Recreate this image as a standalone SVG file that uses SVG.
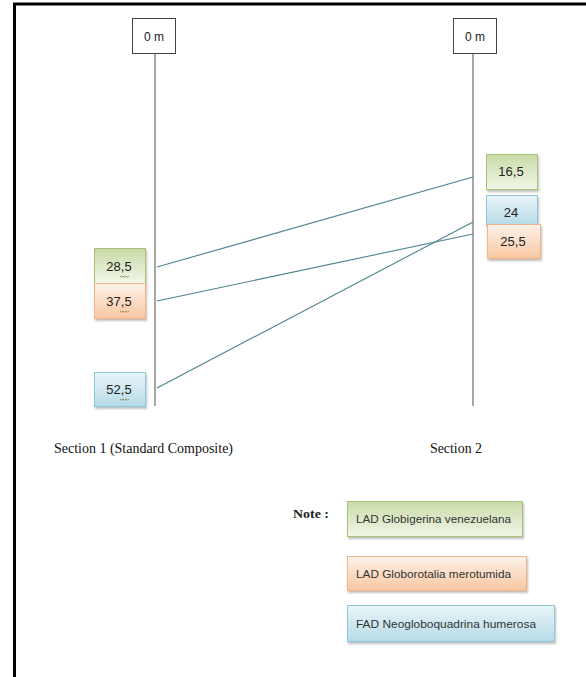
<svg xmlns="http://www.w3.org/2000/svg" width="586" height="677" viewBox="0 0 586 677">
<style>
.frame{stroke:#000;stroke-width:3;fill:none}
.zero{fill:#fff;stroke:#444;stroke-width:1}
.axis{stroke:#777;stroke-width:1.3}
.conn{stroke:#4f8190;stroke-width:1.1;fill:none}
.num{font-family:"Liberation Sans",Arial,sans-serif;font-size:13px;fill:#222;text-anchor:middle}
.sec{font-family:"Liberation Serif","Times New Roman",serif;font-size:14.5px;fill:#111}
.note{font-family:"Liberation Serif","Times New Roman",serif;font-size:13.5px;font-weight:bold;fill:#222}
.leg{font-family:"Liberation Sans",Arial,sans-serif;font-size:11px;fill:#333}
.g{fill:url(#gGreen);stroke:#a8c27a;stroke-width:1}
.o{fill:url(#gOrange);stroke:#f5b487;stroke-width:1}
.b{fill:url(#gBlue);stroke:#8fc8d8;stroke-width:1}
.sq{stroke:#7a6a3a;stroke-width:0.7;fill:none}
</style>
<defs>
<linearGradient id="gGreen" x1="0" y1="0" x2="0" y2="1"><stop offset="0" stop-color="#c9dba8"/><stop offset="1" stop-color="#f1f6e8"/></linearGradient>
<linearGradient id="gOrange" x1="0" y1="0" x2="0" y2="1"><stop offset="0" stop-color="#fdf2ea"/><stop offset="1" stop-color="#f9c7a0"/></linearGradient>
<linearGradient id="gBlue" x1="0" y1="0" x2="0" y2="1"><stop offset="0" stop-color="#eaf5f9"/><stop offset="1" stop-color="#b5dbe7"/></linearGradient>
<filter id="sh" x="-10%" y="-10%" width="130%" height="140%"><feDropShadow dx="1" dy="2" stdDeviation="1.2" flood-color="#000" flood-opacity="0.25"/></filter>
</defs>
<rect width="586" height="677" fill="#fff"/>
<path class="frame" d="M14.5 677 V4 H586"/>

<g id="connectors">
<line class="axis" x1="155" y1="53" x2="155" y2="406"/>
<line class="axis" x1="473" y1="53" x2="473" y2="406"/>
<line class="conn" x1="157" y1="267" x2="473" y2="177"/>
<line class="conn" x1="157" y1="301" x2="473" y2="234"/>
<line class="conn" x1="157" y1="388" x2="473" y2="222"/>
</g>

<g id="top-left"><rect class="zero" x="132.5" y="18.5" width="43" height="35"/><text class="num" x="154" y="41" style="font-size:12px">0 m</text></g>
<g id="top-right"><rect class="zero" x="453.5" y="18.5" width="43" height="35"/><text class="num" x="475" y="41" style="font-size:12px">0 m</text></g>

<g id="n28"><rect class="g" x="94.5" y="248.5" width="51" height="35" filter="url(#sh)"/><text class="num" x="119" y="271">28,5</text><path class="sq" d="M120 276 l1.5 1.2 1.5-1.2 1.5 1.2 1.5-1.2 1.5 1.2 1.5-1.2"/></g>
<g id="n37"><rect class="o" x="94.5" y="283.5" width="51" height="35" filter="url(#sh)"/><text class="num" x="119" y="306">37,5</text><path class="sq" d="M120 311 l1.5 1.2 1.5-1.2 1.5 1.2 1.5-1.2 1.5 1.2 1.5-1.2"/></g>
<g id="n52"><rect class="b" x="94.5" y="372.5" width="51" height="34" filter="url(#sh)"/><text class="num" x="119" y="394">52,5</text><path class="sq" d="M120 399 l1.5 1.2 1.5-1.2 1.5 1.2 1.5-1.2 1.5 1.2 1.5-1.2"/></g>

<g id="n16"><rect class="g" x="486.5" y="154.5" width="51" height="35" filter="url(#sh)"/><text class="num" x="511" y="176">16,5</text></g>
<g id="n24"><rect class="b" x="486.5" y="195.5" width="51" height="30" filter="url(#sh)"/><text class="num" x="511" y="217">24</text></g>
<g id="n25"><rect class="o" x="487.5" y="224.5" width="53" height="34" filter="url(#sh)"/><text class="num" x="513" y="246">25,5</text></g>

<text class="sec" x="54" y="453" textLength="179" lengthAdjust="spacingAndGlyphs">Section 1 (Standard Composite)</text>
<text class="sec" x="430" y="453" textLength="52" lengthAdjust="spacingAndGlyphs">Section 2</text>

<text class="note" x="293" y="518" textLength="36" lengthAdjust="spacingAndGlyphs">Note :</text>
<g id="leg1"><rect class="g" x="347.5" y="501.5" width="175" height="35" filter="url(#sh)"/><text class="leg" x="356" y="523" textLength="155" lengthAdjust="spacingAndGlyphs">LAD Globigerina venezuelana</text></g>
<g id="leg2"><rect class="o" x="347.5" y="556.5" width="179" height="34" filter="url(#sh)"/><text class="leg" x="356" y="578" textLength="155" lengthAdjust="spacingAndGlyphs">LAD Globorotalia merotumida</text></g>
<g id="leg3"><rect class="b" x="347.5" y="605.5" width="207" height="36" filter="url(#sh)"/><text class="leg" x="356" y="628" textLength="180" lengthAdjust="spacingAndGlyphs">FAD Neogloboquadrina humerosa</text></g>
</svg>
